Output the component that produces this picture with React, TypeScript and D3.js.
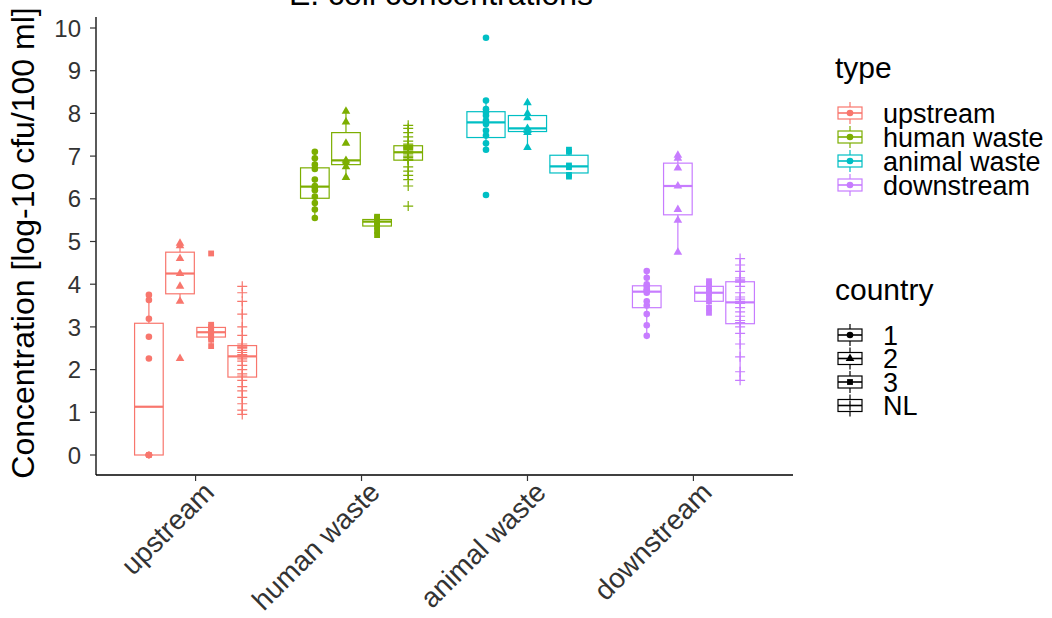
import React from "react";
import * as d3 from "d3";

// ---------- data ----------
const categories = ["upstream", "human waste", "animal waste", "downstream"];
const countries = ["1", "2", "3", "NL"];
const typeColors = ["#F8766D", "#7CAE00", "#00BFC4", "#C77CFF"];
const yTicks = [0, 1, 2, 3, 4, 5, 6, 7, 8, 9, 10];

const upstream1 = [0, 0, 0, 0, 0, 2.26, 2.77, 3.19, 3.63, 3.75];
const upstream2 = [2.26, 3.6, 3.95, 4.25, 4.6, 4.9, 4.96];
const upstream3 = [2.55, 2.7, 2.75, 2.8, 2.85, 2.9, 2.95, 3.0, 3.05, 4.72];
const upstreamNL = [0.95, 1.05, 1.2, 1.35, 1.5, 1.6, 1.75, 1.85, 1.9, 2.0, 2.1, 2.2, 2.25, 2.3, 2.32, 2.35, 2.4, 2.45, 2.5, 2.52, 2.55, 2.6, 2.8, 3.0, 3.3, 3.6, 3.8, 3.95];

const human1 = [5.55, 5.75, 5.9, 6.05, 6.2, 6.27, 6.3, 6.45, 6.7, 6.8, 6.95, 7.1];
const human2 = [6.5, 6.75, 6.85, 6.9, 7.3, 7.8, 8.05];
const human3 = [5.15, 5.25, 5.35, 5.4, 5.45, 5.48, 5.5, 5.52, 5.55, 5.58];
const humanNL = [5.83, 6.3, 6.45, 6.55, 6.65, 6.75, 6.9, 6.92, 6.93, 6.97, 7.0, 7.05, 7.08, 7.1, 7.12, 7.15, 7.18, 7.2, 7.22, 7.25, 7.28, 7.35, 7.45, 7.55, 7.65, 7.72];

const animal1 = [6.09, 7.15, 7.3, 7.48, 7.6, 7.75, 7.83, 7.95, 8.02, 8.1, 8.3, 9.77];
const animal2 = [7.2, 7.55, 7.6, 7.65, 7.9, 8.0, 8.25];
const animal3 = [6.52, 6.56, 6.74, 6.78, 7.1, 7.15];

const down1 = [2.79, 3.04, 3.3, 3.5, 3.6, 3.8, 3.85, 3.88, 3.95, 4.0, 4.15, 4.31];
const down2 = [4.75, 5.5, 5.75, 6.3, 6.72, 6.95, 7.02];
const down3 = [3.33, 3.45, 3.6, 3.7, 3.8, 3.85, 3.95, 4.0, 4.07];
const downNL = [1.75, 1.95, 2.3, 2.6, 2.85, 3.0, 3.1, 3.15, 3.25, 3.35, 3.45, 3.55, 3.6, 3.65, 3.7, 3.8, 3.95, 4.05, 4.08, 4.1, 4.15, 4.3, 4.45, 4.6];

const groups = [
  { type: "upstream", country: "1", values: upstream1 },
  { type: "upstream", country: "2", values: upstream2 },
  { type: "upstream", country: "3", values: upstream3 },
  { type: "upstream", country: "NL", values: upstreamNL },
  { type: "human waste", country: "1", values: human1 },
  { type: "human waste", country: "2", values: human2 },
  { type: "human waste", country: "3", values: human3 },
  { type: "human waste", country: "NL", values: humanNL },
  { type: "animal waste", country: "1", values: animal1 },
  { type: "animal waste", country: "2", values: animal2 },
  { type: "animal waste", country: "3", values: animal3 },
  { type: "downstream", country: "1", values: down1 },
  { type: "downstream", country: "2", values: down2 },
  { type: "downstream", country: "3", values: down3 },
  { type: "downstream", country: "NL", values: downNL },
];

// ---------- layout ----------
const W = 1052;
const H = 618;
const left = 96;
const right = 793;
const top = 17;
const bottom = 475;
const FONT = "'Liberation Sans', Arial, sans-serif";

const x = d3.scaleBand<string>().domain(categories).range([left, right]).paddingOuter(0.1).paddingInner(0);
const y = d3.scaleLinear().domain([0, 10]).range([455, 28]);
const color = d3.scaleOrdinal<string, string>().domain(categories).range(typeColors);

function boxStats(vals: number[]) {
  const s = vals.slice().sort(d3.ascending);
  const q1 = d3.quantile(s, 0.25)!;
  const med = d3.quantile(s, 0.5)!;
  const q3 = d3.quantile(s, 0.75)!;
  const iqr = q3 - q1;
  const lo = d3.min(s.filter((v) => v >= q1 - 1.5 * iqr))!;
  const hi = d3.max(s.filter((v) => v <= q3 + 1.5 * iqr))!;
  return { q1, med, q3, lo, hi };
}

function Shape({ country, cx, cy, fill }: { country: string; cx: number; cy: number; fill: string }) {
  if (country === "1") return <circle cx={cx} cy={cy} r={3.3} fill={fill} />;
  if (country === "2") {
    const p = d3.symbol().type(d3.symbolTriangle).size(32)()!;
    return <path d={p} transform={`translate(${cx},${cy})`} fill={fill} />;
  }
  if (country === "3") {
    const p = d3.symbol().type(d3.symbolSquare).size(34)()!;
    return <path d={p} transform={`translate(${cx},${cy})`} fill={fill} />;
  }
  const a = 5;
  return (
    <path
      d={`M${cx - a},${cy}H${cx + a}M${cx},${cy - a}V${cy + a}`}
      stroke={fill}
      strokeWidth={1.2}
      fill="none"
    />
  );
}

export default function App() {
  const dodge = x.bandwidth() * 0.75;
  const boxes = groups.map((g, gi) => {
    const present = groups.filter((h) => h.type === g.type).map((h) => h.country);
    const n = present.length;
    const k = present.indexOf(g.country);
    const slot = dodge / n;
    const cx = x(g.type)! + x.bandwidth() / 2 - dodge / 2 + slot * (k + 0.5);
    const bw = slot * 0.92;
    const st = boxStats(g.values);
    const c = color(g.type);
    return (
      <g key={gi}>
        <line x1={cx} x2={cx} y1={y(st.q3)} y2={y(st.hi)} stroke={c} strokeWidth={1.2} />
        <line x1={cx} x2={cx} y1={y(st.q1)} y2={y(st.lo)} stroke={c} strokeWidth={1.2} />
        <rect x={cx - bw / 2} y={y(st.q3)} width={bw} height={Math.max(0.5, y(st.q1) - y(st.q3))} fill="white" stroke={c} strokeWidth={1.2} />
        <line x1={cx - bw / 2} x2={cx + bw / 2} y1={y(st.med)} y2={y(st.med)} stroke={c} strokeWidth={2.2} />
        {g.values.map((v, i) => (
          <Shape key={i} country={g.country} cx={cx} cy={y(v)} fill={c} />
        ))}
      </g>
    );
  });

  const legendX = 850;
  const keyW = 24;
  const keyBoxH = 12;
  const Key = ({ cy, stroke, country }: { cy: number; stroke: string; country: string }) => (
    <g>
      <line x1={legendX} x2={legendX} y1={cy - 11} y2={cy + 11} stroke={stroke} strokeWidth={1.2} />
      <rect x={legendX - keyW / 2} y={cy - keyBoxH / 2} width={keyW} height={keyBoxH} fill="white" stroke={stroke} strokeWidth={1.2} />
      <line x1={legendX - keyW / 2} x2={legendX + keyW / 2} y1={cy} y2={cy} stroke={stroke} strokeWidth={1.6} />
      <Shape country={country} cx={legendX} cy={cy} fill={stroke} />
    </g>
  );

  return (
    <svg width={W} height={H} style={{ position: "absolute", left: 0, top: 0, background: "white" }} fontFamily={FONT}>
      <rect width={W} height={H} fill="white" />
      <text x={441} y={5} textAnchor="middle" fontSize={32} fill="#000">
        E. coli concentrations
      </text>
      {boxes}
      {/* axes */}
      <line x1={left} x2={left} y1={top} y2={bottom} stroke="#000" strokeWidth={1.3} />
      <line x1={left} x2={right} y1={bottom} y2={bottom} stroke="#000" strokeWidth={1.3} />
      {yTicks.map((t) => (
        <g key={t}>
          <line x1={left - 6} x2={left} y1={y(t)} y2={y(t)} stroke="#333" strokeWidth={1.2} />
          <text x={left - 15} y={y(t)} dy="0.36em" textAnchor="end" fontSize={24} fill="#333">
            {t}
          </text>
        </g>
      ))}
      {categories.map((c) => {
        const cx = x(c)! + x.bandwidth() / 2;
        return (
          <g key={c}>
            <line x1={cx} x2={cx} y1={bottom} y2={bottom + 6} stroke="#333" strokeWidth={1.2} />
            <text transform={`translate(${cx + 6},${bottom + 5}) rotate(-45)`} textAnchor="end" dy="0.71em" fontSize={28} fill="#333">
              {c}
            </text>
          </g>
        );
      })}
      <text transform={`translate(34,${(top + bottom) / 2 - 3}) rotate(-90)`} textAnchor="middle" fontSize={32} fill="#000">
        Concentration [log-10 cfu/100 ml]
      </text>
      {/* legend: type */}
      <text x={835} y={78} fontSize={30} fill="#000">type</text>
      {categories.map((c, i) => {
        const cy = 113 + i * 24;
        return (
          <g key={c}>
            <Key cy={cy} stroke={color(c)} country="1" />
            <text x={883} y={cy} dy="0.36em" fontSize={27} fill="#000">{c}</text>
          </g>
        );
      })}
      {/* legend: country */}
      <text x={835} y={300} fontSize={30} fill="#000">country</text>
      {countries.map((c, i) => {
        const cy = 335 + i * 23.5;
        return (
          <g key={c}>
            <Key cy={cy} stroke="#000" country={c} />
            <text x={883} y={cy} dy="0.36em" fontSize={27} fill="#000">{c}</text>
          </g>
        );
      })}
    </svg>
  );
}
